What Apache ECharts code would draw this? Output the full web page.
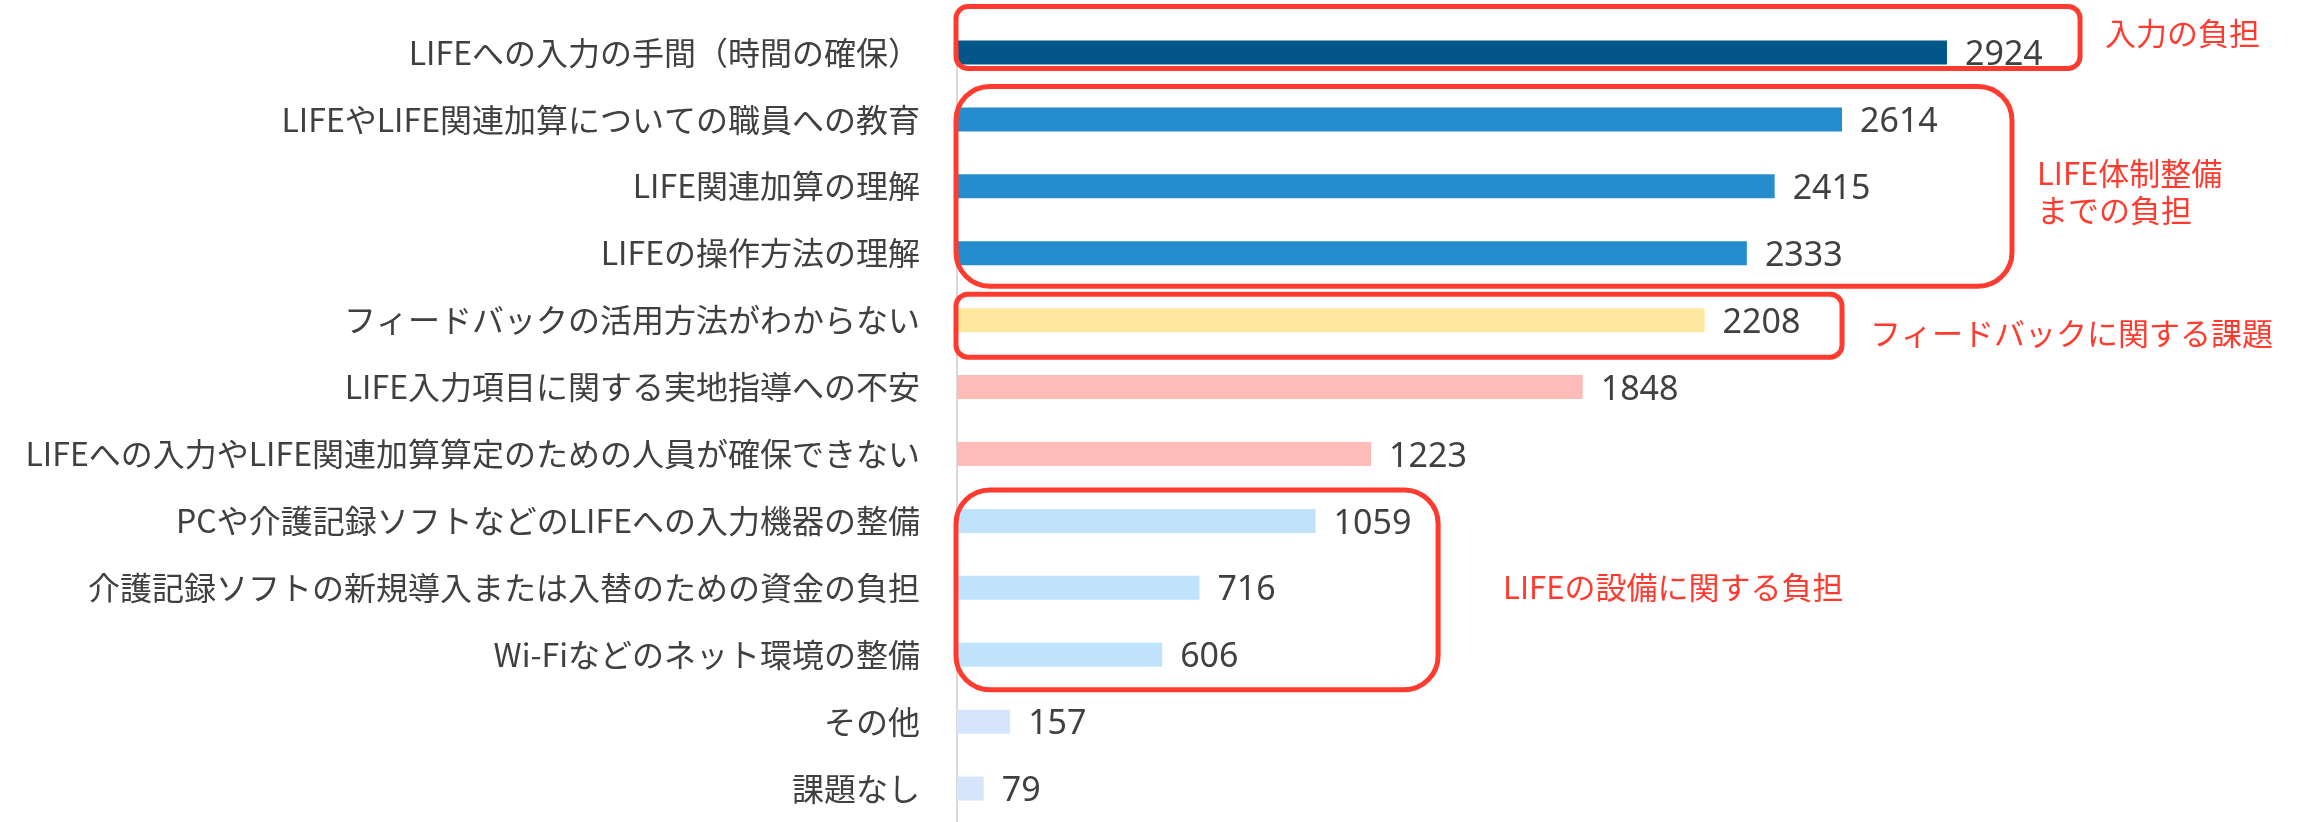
<!DOCTYPE html>
<html>
<head>
<meta charset="utf-8">
<script src="https://cdn.jsdelivr.net/npm/echarts/dist/echarts.min.js"></script>
<style>
  html, body { margin: 0; padding: 0; background: #fff; }
  #chart { width: 2310px; height: 822px; }
</style>
</head>
<body>
<div id="chart"></div>
<script>
// data
const categories = [
  'LIFEへの入力の手間（時間の確保）',
  'LIFEやLIFE関連加算についての職員への教育',
  'LIFE関連加算の理解',
  'LIFEの操作方法の理解',
  'フィードバックの活用方法がわからない',
  'LIFE入力項目に関する実地指導への不安',
  'LIFEへの入力やLIFE関連加算算定のための人員が確保できない',
  'PCや介護記録ソフトなどのLIFEへの入力機器の整備',
  '介護記録ソフトの新規導入または入替のための資金の負担',
  'Wi-Fiなどのネット環境の整備',
  'その他',
  '課題なし'
];
const counts = [2924, 2614, 2415, 2333, 2208, 1848, 1223, 1059, 716, 606, 157, 79];

// annotation groups (category index range + value reach of the frame)
const groupNames = ['入力の負担', 'LIFE体制整備\nまでの負担', 'フィードバックに関する課題', 'LIFEの設備に関する負担'];
const groupFrom = [0, 1, 4, 7];
const groupTo = [0, 3, 4, 9];
const groupReach = [3317, 3116, 2614, 1421];

// styles
const barColors = ['#02568A', '#258DCD', '#258DCD', '#258DCD', '#FFE99E', '#FFBBB7', '#FFBBB7',
  '#BFE3FB', '#BFE3FB', '#BFE3FB', '#D6E5FB', '#D6E5FB'];
const boxPadTop = [46, 33, 26, 31];
const boxPadBottom = [16, 33, 37, 35];
const textDx = [25, 25, 28, 65];
const textDy = [-4, 5, 8, -3];
const RED = '#FF3B2F';

const chart = echarts.init(document.getElementById('chart'));

chart.setOption({
  animation: false,
  backgroundColor: '#fff',
  grid: { left: 957, right: 168, top: 19, height: 807 },
  xAxis: {
    type: 'value',
    min: 0,
    max: 3500,
    show: false
  },
  yAxis: {
    type: 'category',
    inverse: true,
    data: categories,
    axisLine: { show: true, lineStyle: { color: '#d9d9d9', width: 2 } },
    axisTick: { show: false },
    axisLabel: {
      fontSize: 32,
      color: '#404040',
      margin: 37,
      fontFamily: '"Noto Sans CJK JP", sans-serif'
    }
  },
  series: [{
    type: 'bar',
    data: counts,
    barWidth: 24,
    itemStyle: {
      color: (p) => barColors[p.dataIndex]
    },
    label: {
      show: true,
      position: 'right',
      distance: 18,
      offset: [0, 3],
      fontSize: 34,
      color: '#404040',
      fontFamily: '"Noto Sans", sans-serif'
    }
  }]
});

// red frames + notes, placed through the axes
const x0 = chart.convertToPixel({ xAxisIndex: 0 }, 0);
const graphics = [];
groupNames.forEach((name, i) => {
  const yTop = chart.convertToPixel({ yAxisIndex: 0 }, categories[groupFrom[i]]) - boxPadTop[i];
  const yBot = chart.convertToPixel({ yAxisIndex: 0 }, categories[groupTo[i]]) + boxPadBottom[i];
  const xRight = chart.convertToPixel({ xAxisIndex: 0 }, groupReach[i]);
  const h = yBot - yTop;
  graphics.push({
    type: 'rect',
    shape: { x: x0 - 1, y: yTop, width: xRight - x0 + 1, height: h, r: Math.max(12, h * 0.17) },
    style: { fill: null, stroke: RED, lineWidth: 5 },
    z: 100
  });
  graphics.push({
    type: 'text',
    x: xRight + textDx[i],
    y: yTop + h / 2 + textDy[i],
    style: {
      text: name,
      fill: RED,
      fontSize: 31,
      lineHeight: 37,
      fontFamily: '"Noto Sans CJK JP", sans-serif',
      verticalAlign: 'middle',
      align: 'left'
    },
    z: 100
  });
});
chart.setOption({ graphic: graphics });
</script>
</body>
</html>
